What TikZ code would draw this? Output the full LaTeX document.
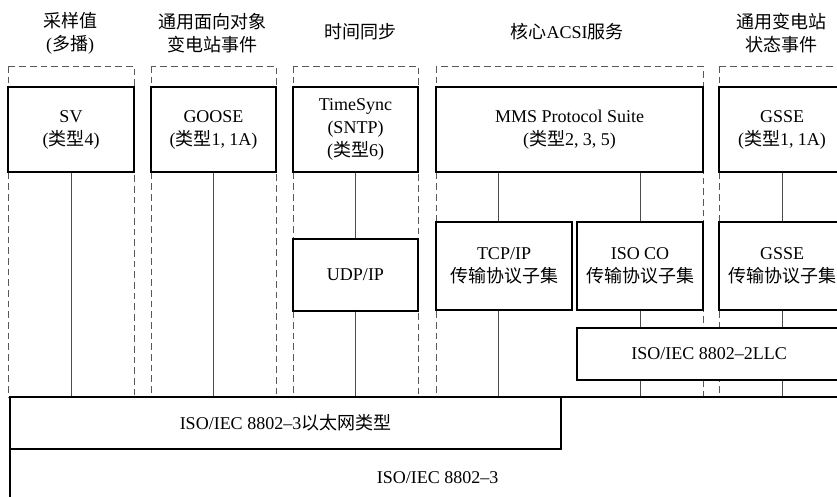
\documentclass[tikz,border=0pt]{standalone}
\usepackage{fontspec}
\setmainfont{Liberation Serif}
\newfontfamily\cjkfont{Noto Sans CJK SC}
\newcommand{\zh}[1]{{\cjkfont #1}}

\begin{document}
\begin{tikzpicture}[x=0.75pt, y=-0.75pt,
    every node/.style={font=\fontsize{13.5}{17.25}\selectfont, align=center, inner sep=0pt},
    blk/.style={rectangle, draw=black, line width=1.1pt, fill=white},
    grp/.style={draw=black!65, line width=0.7pt, dash pattern=on 5pt off 3pt},
    link/.style={draw=black!70, line width=0.7pt}]
    \useasboundingbox (0,0) rectangle (837,496);
    \clip (0,0) rectangle (837,496);

    % column frames
    \draw[grp] (8,66) rectangle (134,397);
    \draw[grp] (151,66) rectangle (276,397);
    \draw[grp] (293,66) rectangle (418,397);
    \draw[grp] (436,66) rectangle (703,397);
    \draw[grp] (719,66) rectangle (845,397);

    % column titles
    \node (hsv) at (70,33) {\zh{采样值}\\(\zh{多播})};
    \node (hgoose) at (212,33) {\zh{通用面向对象}\\\zh{变电站事件}};
    \node (htime) at (360,32) {\zh{时间同步}};
    \node (hacsi) at (567,32) {\zh{核心}ACSI\zh{服务}};
    \node (hgsse) at (781,33) {\zh{通用变电站}\\\zh{状态事件}};

    % link layer
    \node[blk, minimum width=641.25pt, minimum height=121.5pt] (mac) at (437.5,478) {ISO/IEC 8802--3};
    \node[blk, minimum width=413.25pt, minimum height=39pt] (eth) at (285.5,423) {ISO/IEC 8802--3\zh{以太网类型}};
    \node[blk, minimum width=198pt, minimum height=39pt] (llc) at (709,354) {ISO/IEC 8802--2LLC};

    % application layer
    \node[blk, minimum width=94.5pt, minimum height=63.75pt] (sv) at (71,129.5) {SV\\(\zh{类型}4)};
    \node[blk, minimum width=93.75pt, minimum height=63.75pt] (goose) at (213.5,129.5) {GOOSE\\(\zh{类型}1, 1A)};
    \node[blk, minimum width=93.75pt, minimum height=63.75pt] (tsync) at (355.5,129.5) {TimeSync\\(SNTP)\\(\zh{类型}6)};
    \node[blk, minimum width=200.25pt, minimum height=63.75pt] (mms) at (569.5,129.5) {MMS Protocol Suite\\(\zh{类型}2, 3, 5)};
    \node[blk, minimum width=94.5pt, minimum height=63.75pt] (gsse) at (782,129.5) {GSSE\\(\zh{类型}1, 1A)};

    % transport
    \node[blk, minimum width=93.75pt, minimum height=54pt] (udp) at (355.5,275) {UDP/IP};
    \node[blk, minimum width=102pt, minimum height=66pt] (tcp) at (504,266) {TCP/IP\\\zh{传输协议子集}};
    \node[blk, minimum width=94.5pt, minimum height=66pt] (isoco) at (640,266) {ISO CO\\\zh{传输协议子集}};
    \node[blk, minimum width=94.5pt, minimum height=66pt] (gssetp) at (782,266) {GSSE\\\zh{传输协议子集}};

    \coordinate (tcpx) at (498,0);

    \draw[link] (sv.south) -- (sv.south |- eth.north);
    \draw[link] (goose.south) -- (goose.south |- eth.north);
    \draw[link] (tsync) -- (udp);
    \draw[link] (udp.south) -- (udp.south |- eth.north);
    \draw[link] (mms.south -| tcpx) -- (tcp.north -| tcpx);
    \draw[link] (tcp.south -| tcpx) -- (mac.north -| tcpx);
    \draw[link] (mms.south -| isoco) -- (isoco);
    \draw[link] (isoco.south) -- (isoco.south |- llc.north);
    \draw[link] (llc.south -| isoco) -- (mac.north -| isoco);
    \draw[link] (gsse) -- (gssetp);
    \draw[link] (gssetp.south) -- (gssetp.south |- llc.north);
    \draw[link] (llc.south -| gssetp) -- (mac.north -| gssetp);
\end{tikzpicture}
\end{document}
